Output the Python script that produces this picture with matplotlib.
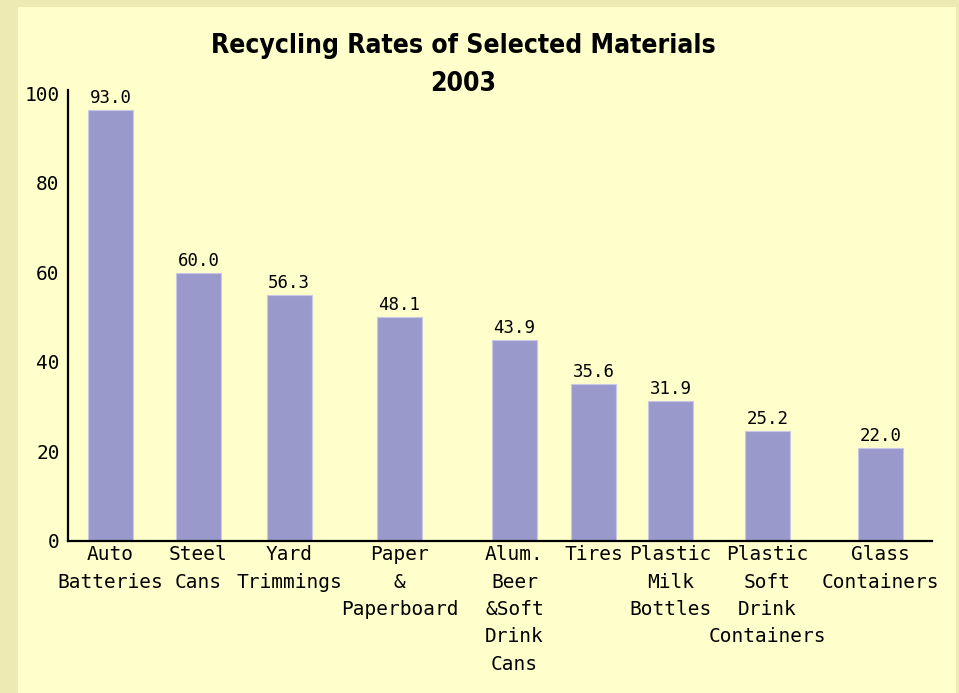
import matplotlib
matplotlib.use('Agg')
import matplotlib.pyplot as plt
from matplotlib.patches import Rectangle

# data
materials = ['Auto\nBatteries', 'Steel\nCans', 'Yard\nTrimmings', 'Paper\n&\nPaperboard',
             'Alum.\nBeer\n&Soft\nDrink\nCans', 'Tires', 'Plastic\nMilk\nBottles',
             'Plastic\nSoft\nDrink\nContainers', 'Glass\nContainers']
rates = [93.0, 60.0, 56.3, 48.1, 43.9, 35.6, 31.9, 25.2, 22.0]
# bar heights as drawn in the original (they do not quite match the labels)
bar_heights = [96.2, 59.8, 54.9, 50.0, 44.9, 35.0, 31.2, 24.6, 20.8]
yticks = [0, 20, 40, 60, 80, 100]

# uneven bar spacing of the original, in axis units
xpos = [42.5, 130.5, 221, 331.5, 446.5, 525.5, 602.5, 699.5, 812.5]

W, H = 959, 693
fig = plt.figure(figsize=(W / 100, H / 100), dpi=100)
fig.patch.set_facecolor('#EDEAB3')
panel = Rectangle((18 / W, 0), (956 - 18) / W, (H - 7) / H,
                  transform=fig.transFigure, facecolor='#FFFFCC',
                  edgecolor='none', zorder=-10)
fig.add_artist(panel)

ax = fig.add_axes([68 / W, (H - 541) / H, 864 / W, (541 - 90) / H])
ax.set_facecolor('none')
ax.set_zorder(1)
ax.bar(xpos, bar_heights, width=45, color='#9999CC', edgecolor='#C8C8E6', linewidth=0.8)

mono = 'DejaVu Sans Mono'
for x, h, r in zip(xpos, bar_heights, rates):
    ax.annotate(f'{r:.1f}', (x, h), xytext=(0, 2), textcoords='offset points',
                ha='center', va='bottom', family=mono, fontsize=12.5)

ax.set_xlim(0, 864)
ax.set_ylim(0, 100.7)
ax.set_yticks(yticks)
ax.set_yticklabels([str(t) for t in yticks], family=mono, fontsize=14)
ax.set_xticks(xpos)
ax.set_xticklabels(materials, family=mono, fontsize=14, linespacing=1.56)
ax.tick_params(axis='both', length=0)
ax.tick_params(axis='y', pad=6)
ax.tick_params(axis='x', pad=3)

for s in ['top', 'right']:
    ax.spines[s].set_visible(False)
for s in ['left', 'bottom']:
    ax.spines[s].set_linewidth(1.6)
    ax.spines[s].set_color('black')

tkw = dict(ha='center', va='center', fontsize=19, fontweight='bold',
           family='DejaVu Sans', fontstretch='condensed')
fig.text(463 / W, 1 - 46 / H, 'Recycling Rates of Selected Materials', **tkw)
fig.text(463 / W, 1 - 84 / H, '2003', **tkw)

fig.savefig('out.png', dpi=100, facecolor=fig.get_facecolor())
